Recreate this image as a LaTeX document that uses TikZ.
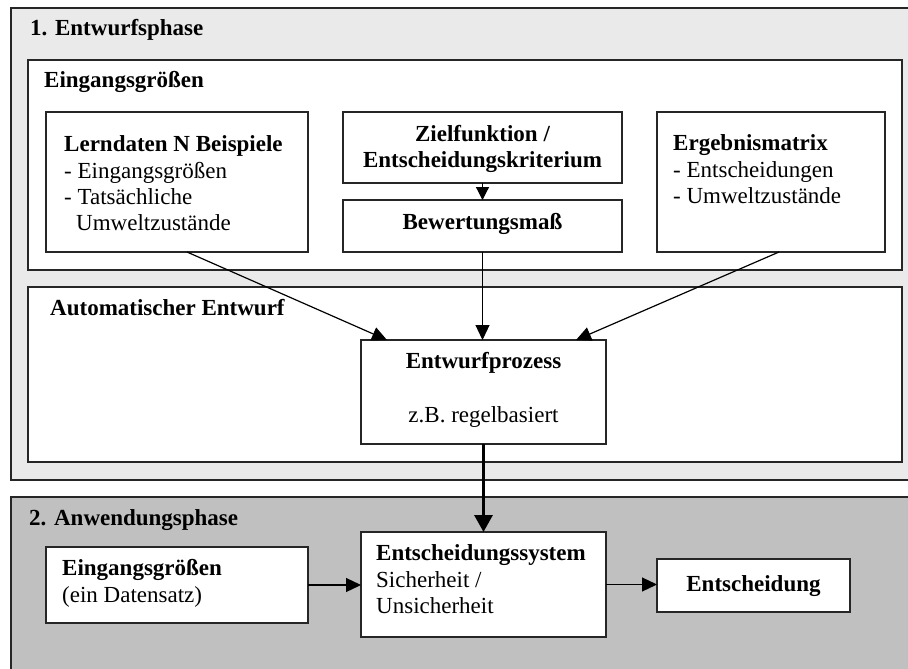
\documentclass[tikz,border=0pt]{standalone}
\usepackage{fontspec}
\setmainfont{Liberation Serif}
\usetikzlibrary{arrows.meta,calc}
\definecolor{phaseA}{HTML}{EAEAEA}
\definecolor{phaseB}{HTML}{C0C0C0}
\definecolor{edge}{HTML}{262626}
\newcommand\mybox[6][]{\node[box,minimum width=#5pt,minimum height=#6pt,#1] (#2) at (#3,#4) {};}
\begin{document}
\begin{tikzpicture}[x=1pt,y=-1pt,
  box/.style={draw=edge,line width=1.3pt,fill=white,anchor=north west,inner sep=0pt,outer sep=0pt},
  lbl/.style={anchor=base west,inner sep=0pt,font=\fontsize{23}{26}\selectfont},
  blbl/.style={anchor=base west,inner sep=0pt,font=\fontsize{23}{26}\selectfont\bfseries},
  clbl/.style={anchor=base,inner sep=0pt,font=\fontsize{23}{26}\selectfont},
  cblbl/.style={anchor=base,inner sep=0pt,font=\fontsize{23}{26}\selectfont\bfseries},
  arr/.style={draw=black,line width=1.2pt,-{Triangle[length=15pt,width=14pt]}},
  arrsmall/.style={draw=black,line width=1.2pt,-{Triangle[length=13pt,width=13pt]}},
  arrthick/.style={draw=black,line width=3.2pt,-{Triangle[length=17pt,width=18pt]}},
]
\useasboundingbox (0,0) rectangle (908,669);
\clip (0,0) rectangle (908,669);
\fill[white] (0,0) rectangle (908,669);
% phases
\mybox[fill=phaseA]{ph1}{11}{8}{930}{472}
\mybox[fill=phaseB]{ph2}{11}{497}{930}{200}
% inner frames
\mybox{eing}{28}{60}{874}{210}
\mybox{auto}{28}{287}{874}{175}
% boxes
\mybox{lern}{46}{112}{262}{140}
\mybox{ziel}{343}{112}{279}{71}
\mybox{bew}{343}{200}{279}{52}
\mybox{erg}{657}{112}{228}{140}
\mybox{entw}{361}{340}{245}{104}
\mybox{esys}{361}{532}{245}{105}
\mybox{einz}{46}{547}{262}{76}
\mybox{ent}{657}{559}{193}{53}
% texts
\node[blbl] (t1) at (30,36) {1. Entwurfsphase};
\node[blbl] (t2) at (44,88) {Eingangsgrößen};
\node[blbl] (t3) at (64,151) {Lerndaten N Beispiele};
\node[lbl] (t4) at (64,178) {- Eingangsgrößen};
\node[lbl] (t5) at (64,204) {- Tatsächliche};
\node[lbl] (t6) at (76,230) {Umweltzustände};
\node[cblbl] (t7) at (482.5,141) {Zielfunktion /};
\node[cblbl] (t8) at (482.5,167) {Entscheidungskriterium};
\node[cblbl] (t9) at (482.5,229) {Bewertungsmaß};
\node[blbl] (t10) at (673,150) {Ergebnismatrix};
\node[lbl] (t11) at (673,177) {- Entscheidungen};
\node[lbl] (t12) at (673,203) {- Umweltzustände};
\node[blbl] (t13) at (50,315) {Automatischer Entwurf};
\node[cblbl] (t14) at (483.5,368) {Entwurfprozess};
\node[clbl] (t15) at (483.5,422) {z.B. regelbasiert};
\node[blbl] (t16) at (29,525) {2. Anwendungsphase};
\node[blbl] (t17) at (62,575) {Eingangsgrößen};
\node[lbl] (t18) at (62,602) {(ein Datensatz)};
\node[blbl] (t19) at (376,560) {Entscheidungssystem};
\node[lbl] (t20) at (376,587) {Sicherheit /};
\node[lbl] (t21) at (376,613) {Unsicherheit};
\node[cblbl] (t22) at (753.5,591) {Entscheidung};
% connectors
\draw[arrsmall] (ziel.south) -- (bew.north);
\draw[arr] ([xshift=10pt]lern.south) -- ([xshift=26pt]entw.north west);
\draw[arr] (bew.south) -- (bew.south |- entw.north);
\draw[arr] ([xshift=8pt]erg.south) -- ([xshift=-30pt]entw.north east);
\draw[arrthick] (entw.south) -- (esys.north);
\draw[arr] (einz.east) -- (einz.east -| esys.west);
\draw[arr] (esys.east) -- (esys.east -| ent.west);
\end{tikzpicture}
\end{document}
